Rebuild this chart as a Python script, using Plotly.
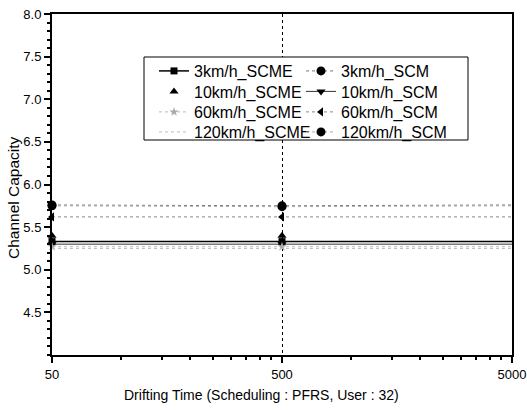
import plotly.graph_objects as go

drift_time = [50, 500, 5000]
x_ticks = [50, 500, 5000]
y_ticks = [4.5, 5.0, 5.5, 6.0, 6.5, 7.0, 7.5, 8.0]

names = ["3km/h_SCME", "3km/h_SCM", "10km/h_SCME", "10km/h_SCM",
         "60km/h_SCME", "60km/h_SCM", "120km/h_SCME", "120km/h_SCM"]
cap_3_scme = [5.33, 5.33, 5.33]
cap_3_scm = [5.76, 5.75, 5.76]
cap_10_scme = [5.40, 5.40, 5.40]
cap_10_scm = [5.30, 5.30, 5.30]
cap_60_scme = [5.27, 5.27, 5.27]
cap_60_scm = [5.62, 5.62, 5.62]
cap_120_scme = [5.25, 5.25, 5.25]
cap_120_scm = [5.75, 5.74, 5.75]

series = [cap_3_scme, cap_3_scm, cap_10_scme, cap_10_scm,
          cap_60_scme, cap_60_scm, cap_120_scme, cap_120_scm]
styles = [
    dict(mode="lines+markers", line=dict(color="black", width=1.5, dash="solid"), marker=dict(symbol="square", size=7, color="black")),
    dict(mode="lines+markers", line=dict(color="#777", width=1, dash="dot"), marker=dict(symbol="circle", size=9, color="black")),
    dict(mode="markers", line=dict(color="#ccc", width=0.8, dash="dot"), marker=dict(symbol="triangle-up", size=8, color="black")),
    dict(mode="lines+markers", line=dict(color="#333", width=1, dash="solid"), marker=dict(symbol="triangle-down", size=8, color="black")),
    dict(mode="lines+markers", line=dict(color="#bbb", width=1, dash="dot"), marker=dict(symbol="star", size=7, color="#aaa")),
    dict(mode="lines+markers", line=dict(color="#888", width=1, dash="dot"), marker=dict(symbol="triangle-left", size=8, color="black")),
    dict(mode="lines", line=dict(color="#bbb", width=1, dash="dot")),
    dict(mode="lines+markers", line=dict(color="#aaa", width=1, dash="dot"), marker=dict(symbol="circle", size=9, color="black")),
]

font = dict(family="Liberation Sans, Arial, sans-serif", color="black")

# legend layout: one legend per entry so the 2x4 grid matches the reference spacing
plot_l, plot_w, plot_b, plot_h = 52, 460, 355, 341
col_text_px = [193, 340]
row_center_px = [71, 91.5, 112, 132]

fig = go.Figure()
legend_defs = {}
for i, (n, s, st) in enumerate(zip(names, series, styles)):
    key = "legend" if i == 0 else f"legend{i + 1}"
    fig.add_trace(go.Scatter(x=drift_time, y=s, name=n, cliponaxis=False,
                             legend=key, **st))
    col, row = i % 2, i // 2
    legend_defs[key] = dict(
        x=(col_text_px[col] - 39 - plot_l) / plot_w,
        y=(plot_b - row_center_px[row]) / plot_h,
        xanchor="left", yanchor="middle", orientation="v",
        bgcolor="rgba(0,0,0,0)", borderwidth=0,
        font=dict(size=16, **font), itemwidth=30,
    )

fig.add_shape(type="rect", xref="paper", yref="paper",
              x0=(144 - plot_l) / plot_w, x1=(468 - plot_l) / plot_w,
              y0=(plot_b - 140) / plot_h, y1=(plot_b - 57) / plot_h,
              fillcolor="white", line=dict(color="black", width=1), layer="above")

fig.add_annotation(text="Drifting Time (Scheduling : PFRS, User : 32)",
                   xref="paper", yref="paper",
                   x=(261 - plot_l) / plot_w, y=(plot_b - 395) / plot_h,
                   xanchor="center", yanchor="middle", showarrow=False,
                   font=dict(size=14, **font))
fig.add_annotation(text="Channel Capacity", textangle=-90,
                   xref="paper", yref="paper",
                   x=(13 - plot_l) / plot_w, y=(plot_b - 198) / plot_h,
                   xanchor="center", yanchor="middle", showarrow=False,
                   font=dict(size=15.5, **font))

fig.update_layout(
    width=527, height=410,
    margin=dict(l=52, r=15, t=14, b=55, autoexpand=False),
    paper_bgcolor="white", plot_bgcolor="white",
    font=dict(size=13, **font),
    showlegend=True,
    **legend_defs,
    xaxis=dict(
        type="log", range=[1.69897, 3.69897],
        tickvals=x_ticks, ticktext=[str(v) for v in x_ticks],
        ticks="outside", ticklen=6, tickwidth=2, tickcolor="black",
        showline=True, linecolor="black", linewidth=2, mirror=True,
        showgrid=True, gridcolor="black", griddash="dot", gridwidth=1,
        zeroline=False,
        tickfont=dict(size=13, **font),
        minor=dict(tickvals=[100, 150, 200, 250, 300, 350, 400, 450,
                             1000, 1500, 2000, 2500, 3000, 3500, 4000, 4500],
                   ticks="outside", ticklen=3, tickcolor="black", showgrid=False),
    ),
    yaxis=dict(
        range=[4.0, 8.0],
        tickvals=y_ticks, ticktext=[f"{v:.1f}" for v in y_ticks],
        ticks="outside", ticklen=6, tickwidth=1.5, tickcolor="black",
        showline=True, linecolor="black", linewidth=2, mirror=True,
        showgrid=False, zeroline=False,
        tickfont=dict(size=13, **font),
        minor=dict(dtick=0.1, ticks="outside", ticklen=3, tickcolor="black", showgrid=False),
    ),
)

fig.write_html("out.html")
